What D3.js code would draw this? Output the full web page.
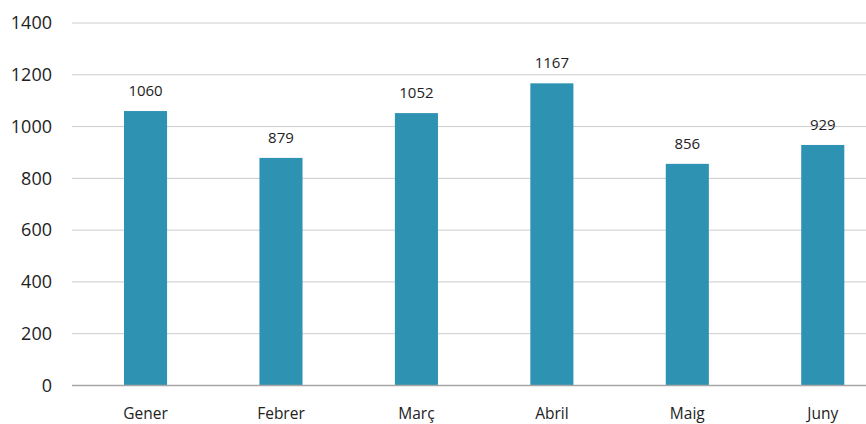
<!DOCTYPE html>
<html>
<head>
<meta charset="utf-8">
<script src="https://cdn.jsdelivr.net/npm/d3@7"></script>
<style>
  body { margin: 0; background: #fff; }
  text { font-family: "Open Sans", sans-serif; fill: #222; }
</style>
</head>
<body>
<div id="chart-area"></div>
<script>
const months = ["Gener", "Febrer", "Març", "Abril", "Maig", "Juny"];
const values = [1060, 879, 1052, 1167, 856, 929];
const yTicks = [0, 200, 400, 600, 800, 1000, 1200, 1400];

const w = 866;
const h = 424;

let svg = d3.select("#chart-area")
  .append("svg")
  .attr("width", w)
  .attr("height", h);

let y = d3.scaleLinear()
  .domain([0, 1400])
  .range([385.5, 23]);

let x = d3.scaleBand()
  .domain(months)
  .range([124, 844.3])
  .paddingInner(0.682)
  .paddingOuter(0);

// gridlines
svg.append("g")
  .selectAll("line")
  .data(yTicks.filter(d => d > 0))
  .enter().append("line")
  .attr("x1", 72)
  .attr("x2", w)
  .attr("y1", d => y(d))
  .attr("y2", d => y(d))
  .attr("stroke", "#cccccc")
  .attr("stroke-width", 1);

// y labels
svg.append("g")
  .selectAll("text")
  .data(yTicks)
  .enter().append("text")
  .attr("x", 52)
  .attr("y", d => y(d))
  .attr("dy", "0.35em")
  .attr("text-anchor", "end")
  .attr("font-size", "18px")
  .text(d => d);

// bars
svg.append("g")
  .selectAll("rect")
  .data(values)
  .enter().append("rect")
  .attr("x", (d, i) => x(months[i]))
  .attr("width", x.bandwidth())
  .attr("y", d => y(d))
  .attr("height", d => y(0) - y(d))
  .attr("fill", "#2e92b2");

// baseline
svg.append("line")
  .attr("x1", 72)
  .attr("x2", w)
  .attr("y1", y(0))
  .attr("y2", y(0))
  .attr("stroke", "#a6a6a6")
  .attr("stroke-width", 1.5);

// value labels
svg.append("g")
  .selectAll("text")
  .data(values)
  .enter().append("text")
  .attr("x", (d, i) => x(months[i]) + x.bandwidth() / 2)
  .attr("y", d => y(d) - 15)
  .attr("text-anchor", "middle")
  .attr("font-size", "15px")
  .text(d => d);

// x labels
svg.append("g")
  .selectAll("text")
  .data(months)
  .enter().append("text")
  .attr("x", d => x(d) + x.bandwidth() / 2)
  .attr("y", 418.5)
  .attr("text-anchor", "middle")
  .attr("font-size", "15.5px")
  .text(d => d);
</script>
</body>
</html>
